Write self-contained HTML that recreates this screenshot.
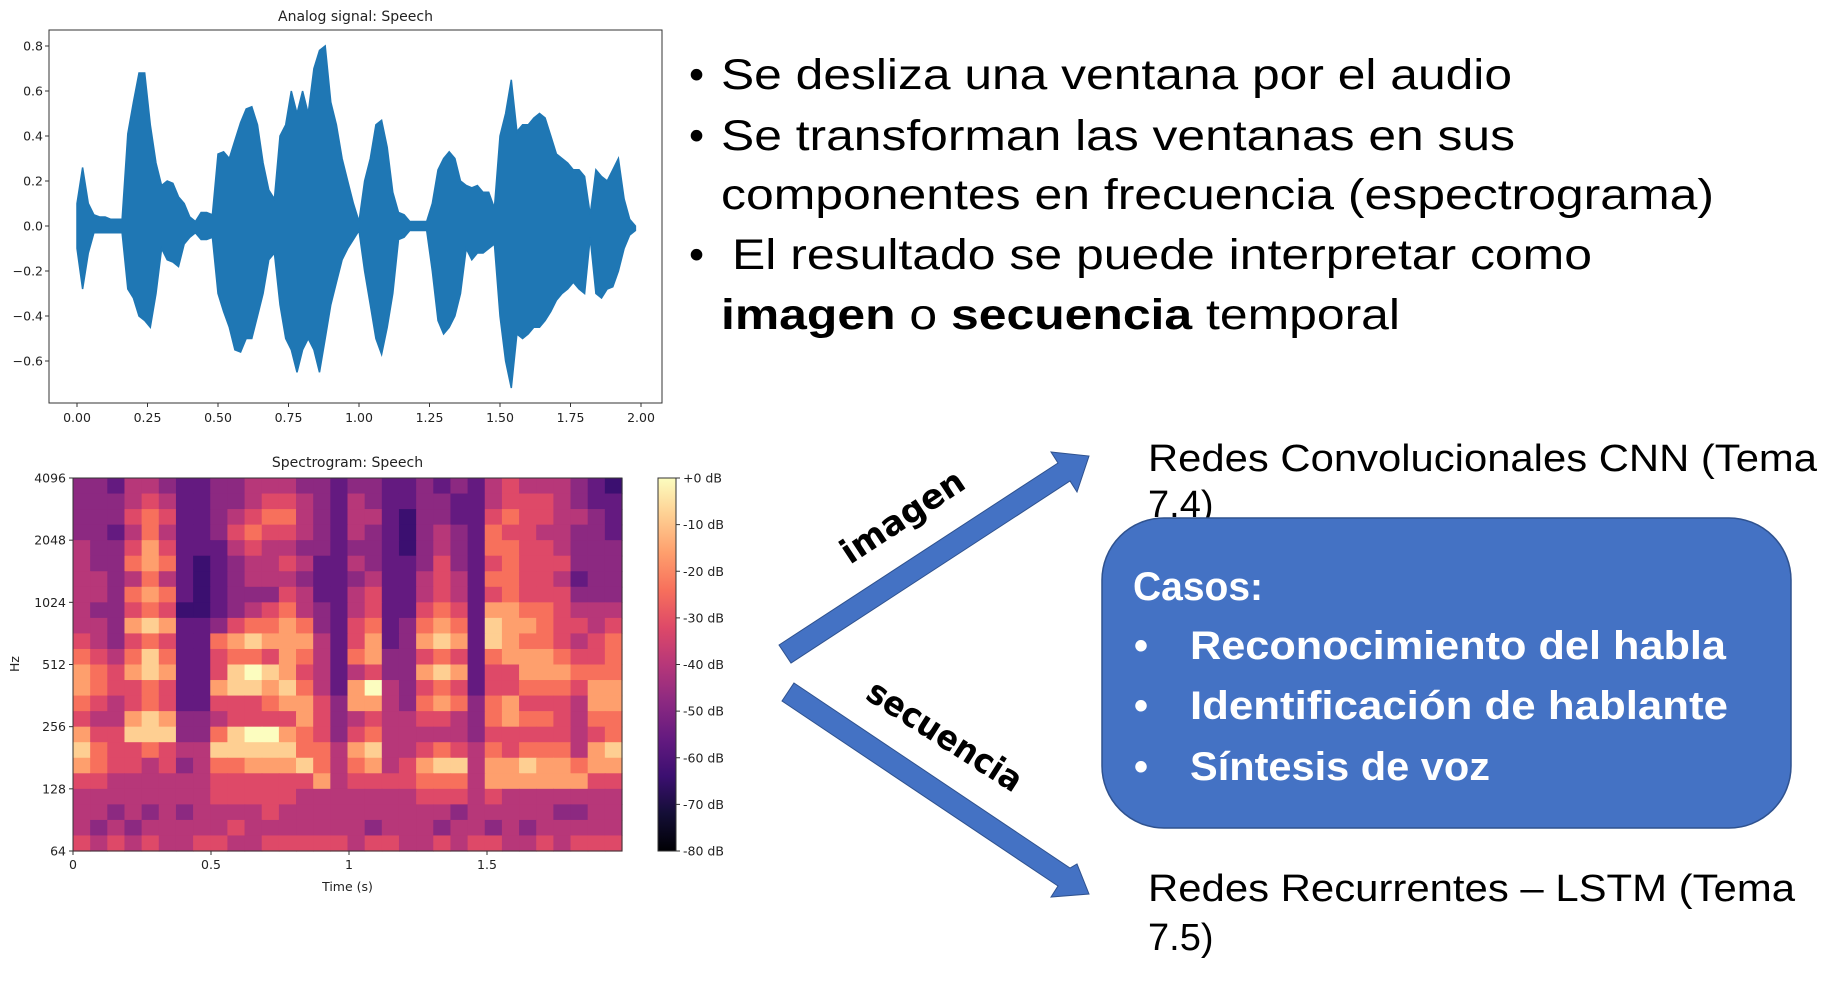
<!DOCTYPE html>
<html><head><meta charset="utf-8"><style>
html,body{margin:0;padding:0;background:#fff;}
svg{display:block;}
text{font-family:"DejaVu Sans","Liberation Sans",sans-serif;}
.big{font-family:"Liberation Sans",Arial,sans-serif;font-size:43px;fill:#000;}
.cal{font-family:"Liberation Sans",sans-serif;font-weight:bold;font-size:40px;fill:#fff;}
.tk{font-size:12.5px;fill:#222;}
</style></head><body>
<svg id="root" width="1847" height="987" viewBox="0 0 1847 987" xmlns="http://www.w3.org/2000/svg">
<rect width="1847" height="987" fill="#fff"/>
<g id="wave"></g>
<g id="spec"></g>

<g>
<text class="big" x="689" y="89">•</text>
<text class="big" x="721" y="89" textLength="791" lengthAdjust="spacingAndGlyphs">Se desliza una ventana por el audio</text>
<text class="big" x="689" y="150">•</text>
<text class="big" x="721" y="150" textLength="794" lengthAdjust="spacingAndGlyphs">Se transforman las ventanas en sus</text>
<text class="big" x="721" y="209" textLength="993" lengthAdjust="spacingAndGlyphs">componentes en frecuencia (espectrograma)</text>
<text class="big" x="689" y="269">•</text>
<text class="big" x="732" y="269" textLength="860" lengthAdjust="spacingAndGlyphs">El resultado se puede interpretar como</text>
<text class="big" x="721" y="329" textLength="679" lengthAdjust="spacingAndGlyphs"><tspan font-weight="bold">imagen</tspan> o <tspan font-weight="bold">secuencia</tspan> temporal</text>
</g>

<polygon points="779,645 1058,463 1051,452 1089,456 1077,492 1070,481 791,663" fill="#4472C4" stroke="#2F528F" stroke-width="1"/>
<polygon points="794,683 1070,868 1077,864 1089,894 1051,897 1058,886 782,701" fill="#4472C4" stroke="#2F528F" stroke-width="1"/>
<text x="0" y="0" transform="translate(850,565) rotate(-33.5)" font-family="Liberation Sans,sans-serif" font-weight="bold" font-size="34" textLength="141" lengthAdjust="spacingAndGlyphs" fill="#000">imagen</text>
<text x="0" y="0" transform="translate(864,698) rotate(32.5)" font-family="Liberation Sans,sans-serif" font-weight="bold" font-size="34" textLength="177" lengthAdjust="spacingAndGlyphs" fill="#000">secuencia</text>

<text class="big" x="1148" y="471" style="font-size:38px" textLength="669" lengthAdjust="spacingAndGlyphs">Redes Convolucionales CNN (Tema</text>
<text class="big" x="1148" y="517" style="font-size:38px">7.4)</text>

<rect x="1102" y="518" width="689" height="310" rx="62" ry="62" fill="#4472C4" stroke="#2F528F" stroke-width="1.5"/>
<text class="cal" x="1133" y="600" textLength="130" lengthAdjust="spacingAndGlyphs">Casos:</text>
<text class="cal" x="1134" y="659">•</text>
<text class="cal" x="1190" y="659" textLength="536" lengthAdjust="spacingAndGlyphs">Reconocimiento del habla</text>
<text class="cal" x="1134" y="719">•</text>
<text class="cal" x="1190" y="719" textLength="538" lengthAdjust="spacingAndGlyphs">Identificación de hablante</text>
<text class="cal" x="1134" y="780">•</text>
<text class="cal" x="1190" y="780" textLength="300" lengthAdjust="spacingAndGlyphs">Síntesis de voz</text>

<text class="big" x="1148" y="901" style="font-size:38px" textLength="647" lengthAdjust="spacingAndGlyphs">Redes Recurrentes – LSTM (Tema</text>
<text class="big" x="1148" y="950" style="font-size:38px">7.5)</text>
</svg>
<script>
// ---- waveform data ----
const waveTimes=[0,0.02,0.04,0.06,0.08,0.10,0.12,0.14,0.16,0.18,0.20,0.22,0.24,0.26,0.28,0.30,0.32,0.34,0.36,0.38,0.40,0.42,0.44,0.46,0.48,0.50,0.52,0.54,0.56,0.58,0.60,0.62,0.64,0.66,0.68,0.70,0.72,0.74,0.76,0.78,0.80,0.82,0.84,0.86,0.88,0.90,0.92,0.94,0.96,0.98,1.00,1.02,1.04,1.06,1.08,1.10,1.12,1.14,1.16,1.18,1.20,1.22,1.24,1.26,1.28,1.30,1.32,1.34,1.36,1.38,1.40,1.42,1.44,1.46,1.48,1.50,1.52,1.54,1.56,1.58,1.60,1.62,1.64,1.66,1.68,1.70,1.72,1.74,1.76,1.78,1.80,1.82,1.84,1.86,1.88,1.90,1.92,1.94,1.96,1.98];
const waveUpper=[0.10,0.26,0.10,0.05,0.04,0.04,0.03,0.03,0.03,0.41,0.55,0.68,0.68,0.45,0.28,0.18,0.20,0.19,0.13,0.10,0.04,0.02,0.06,0.06,0.05,0.32,0.33,0.30,0.38,0.46,0.52,0.53,0.45,0.28,0.16,0.12,0.40,0.45,0.60,0.50,0.60,0.50,0.70,0.78,0.80,0.55,0.45,0.30,0.20,0.10,0.02,0.20,0.30,0.45,0.47,0.35,0.15,0.06,0.05,0.02,0.02,0.02,0.02,0.10,0.25,0.30,0.33,0.30,0.20,0.18,0.17,0.18,0.15,0.15,0.08,0.40,0.50,0.65,0.42,0.45,0.45,0.48,0.50,0.48,0.40,0.32,0.30,0.28,0.25,0.25,0.22,0.05,0.25,0.22,0.20,0.25,0.30,0.12,0.03,0.00];
const waveLower=[-0.10,-0.28,-0.12,-0.03,-0.03,-0.03,-0.03,-0.03,-0.03,-0.28,-0.32,-0.40,-0.42,-0.45,-0.30,-0.10,-0.15,-0.16,-0.18,-0.08,-0.05,-0.03,-0.06,-0.06,-0.05,-0.30,-0.38,-0.45,-0.55,-0.56,-0.50,-0.50,-0.40,-0.30,-0.15,-0.12,-0.35,-0.50,-0.55,-0.65,-0.55,-0.50,-0.55,-0.65,-0.50,-0.35,-0.25,-0.15,-0.10,-0.06,-0.02,-0.20,-0.35,-0.50,-0.57,-0.45,-0.30,-0.06,-0.05,-0.02,-0.02,-0.02,-0.02,-0.20,-0.42,-0.48,-0.45,-0.40,-0.30,-0.10,-0.15,-0.12,-0.12,-0.10,-0.08,-0.40,-0.60,-0.72,-0.48,-0.50,-0.48,-0.45,-0.45,-0.42,-0.38,-0.33,-0.30,-0.28,-0.25,-0.28,-0.30,-0.05,-0.30,-0.32,-0.28,-0.27,-0.20,-0.10,-0.04,-0.02];
const waveYTicks=[0.8,0.6,0.4,0.2,0.0,-0.2,-0.4,-0.6];
const waveXTicks=[0,0.25,0.5,0.75,1.0,1.25,1.5,1.75,2.0];
// ---- spectrogram data (levels 0-9), rows high freq -> low freq ----
const specRows=[
"332 443 22 3344 43 3 2 33 22 323 2 454443 21",
"333 454 22 3345 54 3 2 43 22 332 2 455543 22",
"333 565 22 3456 64 3 2 44 21 332 2 565544 32",
"332 464 22 3565 54 3 2 43 21 343 2 655443 32",
"433 575 22 2454 43 3 2 33 21 343 2 665543 33",
"433 676 21 2344 54 2 2 43 22 353 2 565553 33",
"443 464 21 2344 43 2 2 34 22 454 2 665542 33",
"443 676 21 2333 54 2 2 45 22 454 2 565553 33",
"433 565 11 2345 64 3 2 45 22 565 2 776654 44",
"443 787 22 3566 76 3 2 56 23 676 2 877655 45",
"543 565 22 6787 77 4 2 57 23 787 2 876654 56",
"654 686 22 5665 76 4 2 67 33 565 2 677765 56",
"765 787 22 5898 75 4 2 45 33 787 2 557776 66",
"765 565 22 7887 86 4 2 79 43 565 2 556665 77",
"654 565 22 5556 77 5 3 77 43 676 3 675554 77",
"544 787 33 4555 57 5 3 45 44 554 3 676654 66",
"755 888 33 6899 76 5 3 56 44 444 3 555554 56",
"865 565 44 8888 86 6 4 78 44 565 4 656664 78",
"765 545 34 6677 78 6 4 67 45 788 4 778776 77",
"554 444 44 5555 55 7 4 55 55 666 4 777777 55",
"444 444 44 5555 54 4 4 44 44 555 4 544444 44",
"443 434 34 4445 44 4 4 44 44 443 4 444433 44",
"434 344 44 4544 44 4 4 43 44 434 4 343444 44",
"545 454 45 5445 55 5 5 45 54 454 5 544545 55"];
const specYTicks=[4096,2048,1024,512,256,128,64];
const specXTicks=[0,0.5,1,1.5];
const cbTicks=["+0 dB","-10 dB","-20 dB","-30 dB","-40 dB","-50 dB","-60 dB","-70 dB","-80 dB"];
const magma=["#000004","#140e36","#3b0f70","#641a80","#8c2981","#b73779","#de4968","#f7705c","#fe9f6d","#fecf92","#fcfdbf"];

const NS="http://www.w3.org/2000/svg";
function mk(tag,attrs,parent){const e=document.createElementNS(NS,tag);for(const k in attrs)e.setAttribute(k,attrs[k]);parent.appendChild(e);return e;}

// ---- waveform ----
const W=document.getElementById('wave');
const wx=t=>77+t*282, wy=v=>226-v*225;
const wl=49,wr=662,wt=30,wb=403;
let pts=[];
for(let i=0;i<waveTimes.length;i++)pts.push(wx(waveTimes[i]).toFixed(1)+","+wy(waveUpper[i]).toFixed(1));
for(let i=waveTimes.length-1;i>=0;i--)pts.push(wx(waveTimes[i]).toFixed(1)+","+wy(waveLower[i]).toFixed(1));
const poly=mk('polygon',{points:pts.join(' '),fill:'#1f77b4',stroke:'#1f77b4','stroke-width':'1.5'},W);


const wframe=mk('rect',{x:wl,y:wt,width:wr-wl,height:wb-wt,fill:'none',stroke:'#333','stroke-width':'1'},W);


const wtitle=mk('text',{x:(wl+wr)/2,y:21,'text-anchor':'middle','font-size':'14',fill:'#222'},W);
wtitle.textContent='Analog signal: Speech';


waveYTicks.forEach(v=>{
  mk('line',{x1:wl-4,x2:wl,y1:wy(v),y2:wy(v),stroke:'#333'},W);
  const t=mk('text',{x:wl-6,y:wy(v)+4.5,'text-anchor':'end',class:'tk'},W);
  t.textContent=(v<0?'\u2212':'')+Math.abs(v).toFixed(1);
  
  
});
waveXTicks.forEach(v=>{
  mk('line',{x1:wx(v),x2:wx(v),y1:wb,y2:wb+4,stroke:'#333'},W);
  const t=mk('text',{x:wx(v),y:wb+19,'text-anchor':'middle',class:'tk'},W);
  t.textContent=v.toFixed(2);
  
  
});

// ---- spectrogram ----
const S=document.getElementById('spec');
const sl=73,sr=622,st=478,sb=851;
const sx=t=>73+t*276;
const sy=f=>st+(12-Math.log2(f))*((sb-st)/6);
const grid=specRows.map(r=>r.replace(/\s+/g,''));
const nRows=grid.length, nCols=grid[0].length;
const cw=(sr-sl)/nCols, rh=(sb-st)/nRows;
grid.forEach((row,r)=>{
  for(let c=0;c<nCols;c++){
    const lvl=parseInt(row[c]||'3');
    const db=-80+(lvl+1)*8;
    const ci=Math.max(0,Math.min(10,Math.round((db+80)/8)));
    const cell=mk('rect',{x:(sl+c*cw).toFixed(2),y:(st+r*rh).toFixed(2),width:(cw+0.6).toFixed(2),height:(rh+0.6).toFixed(2),fill:magma[ci]},S);
    
    
  }
});
const sframe=mk('rect',{x:sl,y:st,width:sr-sl,height:sb-st,fill:'none',stroke:'#333','stroke-width':'1'},S);


const stitle=mk('text',{x:(sl+sr)/2,y:467,'text-anchor':'middle','font-size':'14',fill:'#222'},S);
stitle.textContent='Spectrogram: Speech';


specYTicks.forEach(f=>{
  mk('line',{x1:sl-4,x2:sl,y1:sy(f),y2:sy(f),stroke:'#333'},S);
  const t=mk('text',{x:sl-7,y:sy(f)+4.5,'text-anchor':'end',class:'tk'},S);
  t.textContent=String(f);
  
  
});
specXTicks.forEach(v=>{
  mk('line',{x1:sx(v),x2:sx(v),y1:sb,y2:sb+4,stroke:'#333'},S);
  const t=mk('text',{x:sx(v),y:sb+18,'text-anchor':'middle',class:'tk'},S);
  t.textContent=String(v);
  
  
});
const xl=mk('text',{x:(sl+sr)/2,y:891,'text-anchor':'middle',class:'tk'},S);
xl.textContent='Time (s)';


const yl=mk('text',{x:0,y:0,transform:'translate(19,664) rotate(-90)','text-anchor':'middle',class:'tk'},S);
yl.textContent='Hz';


// colorbar
const defs=mk('defs',{},S);
const lg=mk('linearGradient',{id:'cbg',x1:'0',y1:'1',x2:'0',y2:'0'},defs);
magma.forEach((c,i)=>mk('stop',{offset:(i/10),'stop-color':c},lg));
const cb=mk('rect',{x:658,y:st,width:18,height:sb-st,fill:'url(#cbg)',stroke:'#333','stroke-width':'1'},S);


cbTicks.forEach((lab,i)=>{
  const y=st+i*(sb-st)/(cbTicks.length-1);
  mk('line',{x1:676,x2:680,y1:y,y2:y,stroke:'#333'},S);
  const t=mk('text',{x:683,y:y+4.5,class:'tk'},S);
  t.textContent=lab;
  
  
});
</script>
</body></html>
